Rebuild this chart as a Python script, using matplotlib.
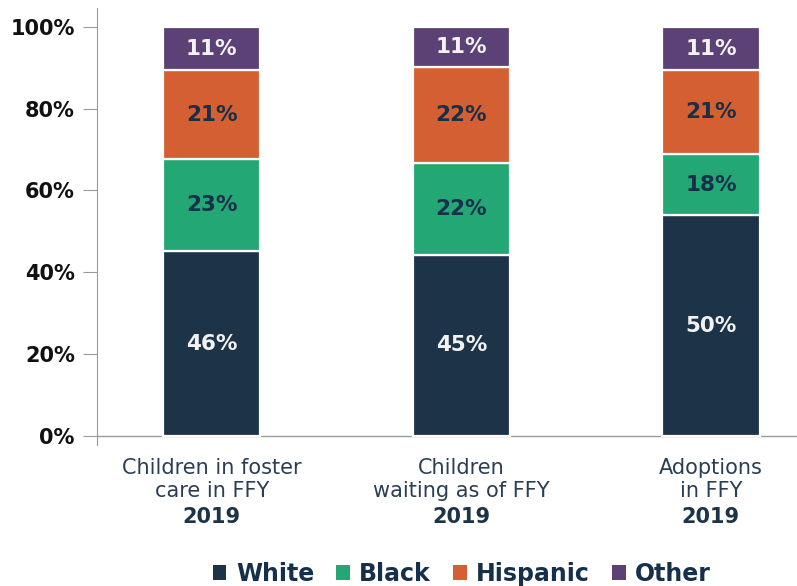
import matplotlib
matplotlib.use("Agg")
import matplotlib.pyplot as plt
from matplotlib.patches import Patch
import numpy as np

categories_line1 = ["Children in foster\ncare in FFY", "Children\nwaiting as of FFY", "Adoptions\nin FFY"]
categories_year = ["2019", "2019", "2019"]
series = ["White", "Black", "Hispanic", "Other"]
# segment heights (share of bar, %) as drawn
white = [45.2, 44.3, 54.0]
black = [22.4, 22.4, 14.9]
hispanic = [21.8, 23.6, 20.5]
other = [10.5, 9.6, 10.5]
# printed labels
white_lbl = ["46%", "45%", "50%"]
black_lbl = ["23%", "22%", "18%"]
hispanic_lbl = ["21%", "22%", "21%"]
other_lbl = ["11%", "11%", "11%"]
yticks = [0, 20, 40, 60, 80, 100]

colors = ["#1d3348", "#22a775", "#d45f33", "#5c4176"]
text_colors = ["#f2f2f2", "#16304a", "#16304a", "#f2f2f2"]
navy = "#1d3348"

plt.rcParams['font.family'] = ['DejaVu Sans']
fig = plt.figure(figsize=(7.97, 5.86), dpi=100)
ax = fig.add_axes([97/797, 1-445/586, 1-97/797, 437/586])

x = np.arange(3)
vals = [white, black, hispanic, other]
lbls = [white_lbl, black_lbl, hispanic_lbl, other_lbl]
bottom = np.zeros(3)
for v, l, c, tc in zip(vals, lbls, colors, text_colors):
    v = np.array(v)
    ax.bar(x, v, bottom=bottom, width=0.39, color=c, edgecolor="white", linewidth=1.6)
    for xi, b, h, t in zip(x, bottom, v, l):
        ax.text(xi, b + h/2, t, ha="center", va="center", color=tc, fontsize=15.5, fontweight="semibold")
    bottom += v

ax.set_xlim(-0.46, 2.345)
ax.set_ylim(-2.2, 104.6)
ax.axhline(0, color="#9a9a9a", linewidth=1.0, zorder=0)
for s in ["top", "right", "bottom"]:
    ax.spines[s].set_visible(False)
ax.spines["left"].set_color("#9a9a9a")
ax.set_xticks([])
ax.set_yticks(yticks)
ax.set_yticklabels([f"{t}%" for t in yticks], fontsize=15, fontweight="semibold", color="#111111")
ax.tick_params(axis="y", length=10, color="#9a9a9a", pad=6)

for xi, c1, yr in zip(x, categories_line1, categories_year):
    ax.text(xi, -7.6 - 3.0, c1, ha="center", va="center", fontsize=15, fontweight="normal",
            color="#2a3f55", clip_on=False, linespacing=1.15)
    ax.text(xi, -19.7, yr, ha="center", va="center", fontsize=15, fontweight="bold",
            color=navy, clip_on=False)

handles = [Patch(facecolor=c, edgecolor="none") for c in colors]
leg = fig.legend(handles, series, loc="center", bbox_to_anchor=(462/797, 1-574/586), ncol=4,
                 frameon=False, prop={"weight": "heavy", "size": 17}, handlelength=0.56,
                 handleheight=0.56, handletextpad=0.4, columnspacing=0.95)
for t in leg.get_texts():
    t.set_color("#16304a")

fig.savefig("out.png", dpi=100)
